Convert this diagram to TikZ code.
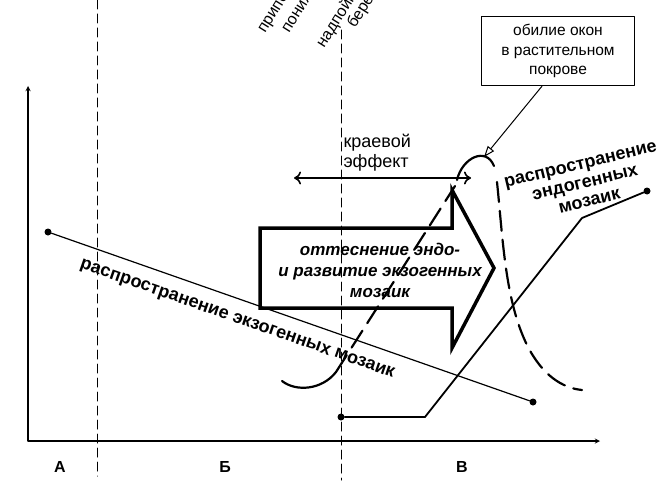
\documentclass[tikz,border=0pt]{standalone}
\usepackage{fontspec}
\setmainfont{Liberation Sans}
\usetikzlibrary{arrows.meta}
\tikzset{
	dot/.style={circle,fill,inner sep=0pt,minimum size=7pt},
	zona/.style={font=\fontsize{16}{18}\selectfont\bfseries},
	verh/.style={font=\fontsize{16}{18}\selectfont,rotate=58,anchor=base west,inner sep=0pt},
	granica/.style={dash pattern=on 9pt off 5pt,line width=1pt},
	podpis/.style={font=\fontsize{18}{19}\selectfont\bfseries,align=center},
	kolokol/.style={line width=2.2pt,dash pattern=on 20pt off 9pt},
}
\begin{document}
\begin{tikzpicture}[x=1pt,y=-1pt,line join=round,line cap=round,>=stealth]
	\useasboundingbox (0,0) rectangle (663,484);
	\clip (0,0) rectangle (663,484);
	\coordinate (O) at (28,441);
	\coordinate (yk) at (28,86);
	\coordinate (xk) at (600,441);
	\draw[line width=1.3pt,<->] (yk)--(O)--(xk);
	\foreach \x/\a/\b in {97/0/476,341/30/480}\draw[granica] (\x,\a)--(\x,\b);
	\foreach \x/\g [count=\i] in {60/А,225/Б,462/В}\path(\x,467)node[zona](z\i){\g};
	\foreach \x/\y/\g [count=\i] in {265/34/припо,289/34/пониж,324/49/надпойм,355/29/бере}\path(\x,\y)node[verh](v\i){\g};
	\node[dot] (ex1) at (48,232) {};
	\node[dot] (ex2) at (533,402) {};
	\draw[line width=1.2pt] (ex1)--(ex2);
	\node[podpis,rotate=-19.3] (exo) at (237,320) {распространение экзогенных мозаик};
	\node[dot] (en1) at (341,417) {};
	\coordinate (en2) at (425,417);
	\coordinate (en3) at (582,218);
	\node[dot] (en4) at (647,191) {};
	\draw[line width=1.8pt] (en1)--(en2)--(en3)--(en4);
	\node[podpis,rotate=13.5] (endo) at (585,183) {распространение\\эндогенных\\мозаик};
	\draw[line width=3.5pt,line join=miter]
	(260,228)--(452,228)--(452,190)--(494,268)--(452,348)--(452,308)--(260,308)--cycle;
	\node[font=\fontsize{17}{21}\selectfont\bfseries\itshape,align=center] (ott) at (380,270) {оттеснение эндо-\\и развитие экзогенных\\мозаик};
	\coordinate (kl) at (294,178);
	\coordinate (kr) at (471,178);
	\draw[line width=1.6pt,{To[length=7pt,width=13pt]}-{To[length=7pt,width=13pt]}] (kl)--(kr);
	\node[font=\fontsize{18}{20}\selectfont,align=left,anchor=west] (kraj) at (340,153) {краевой\\эффект};
	\draw[line width=2.2pt] (282,381) .. controls (296,392) and (322,390) .. (336,372);
	\draw[kolokol] (336,372)--(455,186);
	\draw[line width=2.2pt] (457,180) .. controls (462,158) and (486,146) .. (494,166);
	\draw[kolokol] (497,182) .. controls (503,240) and (505,300) .. (527,345) .. controls (542,375) and (562,388) .. (582,390);
	\coordinate (pik) at (484,157);
	\node[draw,line width=1.3pt,align=center,minimum width=153pt,minimum height=69pt,font=\fontsize{15.5}{19.5}\selectfont] (okna) at (558,51) {обилие окон\\в растительном\\покрове};
	\draw[line width=1pt,-{Triangle[open,length=11pt,width=8pt]}] ([xshift=-16pt]okna.south)--(pik);
\end{tikzpicture}
\end{document}
